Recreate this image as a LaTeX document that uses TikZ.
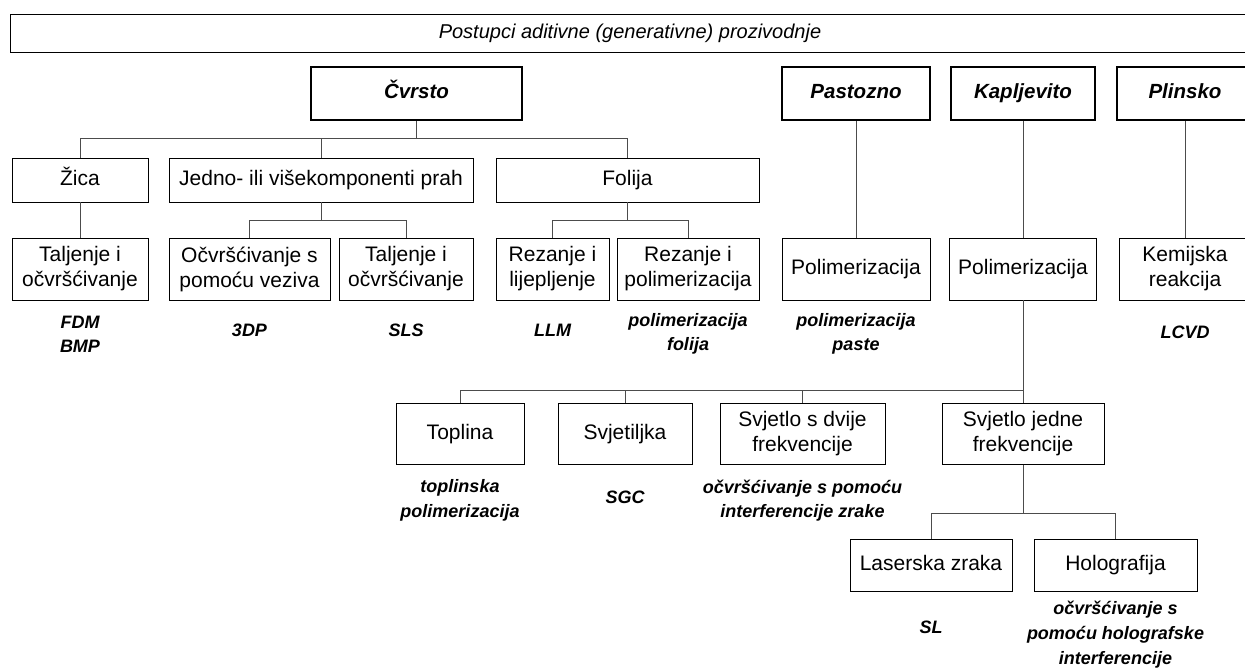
\documentclass[tikz,border=0pt]{standalone}
\usepackage{fontspec}
\setmainfont{Liberation Sans}
\begin{document}
\begin{tikzpicture}[x=1pt,y=-1pt]
  \tikzstyle{BoxStyle}=[draw,inner sep=0pt,align=center,line width=0.9pt,font=\fontsize{21}{25}\selectfont]
  \tikzstyle{OneLine}=[text height=15pt,text depth=4.5pt]
  \tikzstyle{HeadStyle}=[BoxStyle,OneLine,line width=2.6pt,minimum height=53pt,font=\fontsize{20.5}{25}\selectfont\bfseries\itshape]
  \tikzstyle{TagStyle}=[align=center,inner sep=0pt,font=\fontsize{18}{24}\selectfont\bfseries\itshape]
  \tikzstyle{EdgeStyle}=[draw=black!70,line width=0.9pt]
  \useasboundingbox (0,0) rectangle (1245,670);
  \node[BoxStyle,OneLine,minimum width=1240pt,minimum height=38pt,font=\fontsize{20}{25}\selectfont\itshape] (title) at (630,33) {Postupci aditivne (generativne) prozivodnje};
  % glavne skupine
  \node[HeadStyle,minimum width=211pt] (cvrsto) at (416.5,93.5) {Čvrsto};
  \node[HeadStyle,minimum width=148pt] (pastozno) at (856,93.5) {Pastozno};
  \node[HeadStyle,minimum width=144pt] (kapljevito) at (1023,93.5) {Kapljevito};
  \node[HeadStyle,minimum width=136pt] (plinsko) at (1185,93.5) {Plinsko};
  % materijal
  \node[BoxStyle,OneLine,minimum width=136pt,minimum height=44pt] (zica) at (80,180) {Žica};
  \node[BoxStyle,OneLine,minimum width=304pt,minimum height=44pt] (prah) at (321,180) {Jedno- ili višekomponenti prah};
  \node[BoxStyle,OneLine,minimum width=263pt,minimum height=44pt] (folija) at (627.5,180) {Folija};
  % postupak
  \node[BoxStyle,minimum width=136pt,minimum height=62pt] (taljenjeA) at (80,269) {Taljenje i\\očvršćivanje};
  \node[BoxStyle,minimum width=161pt,minimum height=62pt] (vezivo) at (249.5,269) {Očvršćivanje s\\pomoću veziva};
  \node[BoxStyle,minimum width=134pt,minimum height=62pt] (taljenjeB) at (406,269) {Taljenje i\\očvršćivanje};
  \node[BoxStyle,minimum width=113pt,minimum height=62pt] (lijepljenje) at (552.5,269) {Rezanje i\\lijepljenje};
  \node[BoxStyle,minimum width=142pt,minimum height=62pt] (rezanjePol) at (688,269) {Rezanje i\\polimerizacija};
  \node[BoxStyle,OneLine,minimum width=148pt,minimum height=62pt] (polPasta) at (856,269) {Polimerizacija};
  \node[BoxStyle,OneLine,minimum width=147pt,minimum height=62pt] (polKap) at (1023,269) {Polimerizacija};
  \node[BoxStyle,minimum width=132pt,minimum height=62pt] (kemijska) at (1185,269) {Kemijska\\reakcija};
  % izvor energije
  \node[BoxStyle,OneLine,minimum width=128pt,minimum height=61pt] (toplina) at (460,434) {Toplina};
  \node[BoxStyle,OneLine,minimum width=134pt,minimum height=61pt] (svjetiljka) at (625,434) {Svjetiljka};
  \node[BoxStyle,minimum width=165pt,minimum height=61pt] (dvije) at (802.5,434) {Svjetlo s dvije\\frekvencije};
  \node[BoxStyle,minimum width=162pt,minimum height=61pt] (jedne) at (1023,434) {Svjetlo jedne\\frekvencije};
  \node[BoxStyle,OneLine,minimum width=162pt,minimum height=52pt] (laser) at (931,565) {Laserska zraka};
  \node[BoxStyle,OneLine,minimum width=163pt,minimum height=52pt] (holo) at (1115.5,565) {Holografija};
  % oznake postupaka
  \node[TagStyle] (tFDM) at (80,334) {FDM\\BMP};
  \node[TagStyle] (t3DP) at (249.5,330) {3DP};
  \node[TagStyle] (tSLS) at (406,330) {SLS};
  \node[TagStyle] (tLLM) at (552.5,330) {LLM};
  \node[TagStyle] (tFolija) at (688,334) {polimerizacija\\folija};
  \node[TagStyle] (tPasta) at (856,334) {polimerizacija\\paste};
  \node[TagStyle] (tLCVD) at (1185,332) {LCVD};
  \node[TagStyle,font=\fontsize{18}{25}\selectfont\bfseries\itshape] (tToplina) at (460,500) {toplinska\\polimerizacija};
  \node[TagStyle] (tSGC) at (625,497) {SGC};
  \node[TagStyle] (tDvije) at (802.5,501) {očvršćivanje s pomoću\\interferencije zrake};
  \node[TagStyle] (tSL) at (931,627) {SL};
  \node[TagStyle,font=\fontsize{18}{25}\selectfont\bfseries\itshape] (tHolo) at (1115.5,635) {očvršćivanje s\\pomoću holografske\\interferencije};
  % veze
  \coordinate (busA) at ([yshift=-17pt]cvrsto.south);
  \coordinate (busB) at ([yshift=-18pt]prah.south);
  \coordinate (busC) at ([yshift=-18pt]folija.south);
  \coordinate (busD) at ([yshift=-90pt]polKap.south);
  \coordinate (busE) at ([yshift=-48pt]jedne.south);
  \draw[EdgeStyle] (cvrsto.south) -- (busA);
  \draw[EdgeStyle] (zica.north) |- (busA) -| (folija.north);
  \draw[EdgeStyle] (prah.north) -- (prah.north |- busA);
  \draw[EdgeStyle] (zica.south) -- (taljenjeA.north);
  \draw[EdgeStyle] (prah.south) -- (busB);
  \draw[EdgeStyle] (vezivo.north) |- (busB) -| (taljenjeB.north);
  \draw[EdgeStyle] (folija.south) -- (busC);
  \draw[EdgeStyle] (lijepljenje.north) |- (busC) -| (rezanjePol.north);
  \draw[EdgeStyle] (pastozno.south) -- (polPasta.north);
  \draw[EdgeStyle] (kapljevito.south) -- (polKap.north);
  \draw[EdgeStyle] (plinsko.south) -- (kemijska.north);
  \draw[EdgeStyle] (polKap.south) -- (jedne.north);
  \draw[EdgeStyle] (toplina.north) |- (busD);
  \draw[EdgeStyle] (svjetiljka.north) -- (svjetiljka.north |- busD);
  \draw[EdgeStyle] (dvije.north) -- (dvije.north |- busD);
  \draw[EdgeStyle] (jedne.south) -- (busE);
  \draw[EdgeStyle] (laser.north) |- (busE) -| (holo.north);
\end{tikzpicture}
\end{document}
